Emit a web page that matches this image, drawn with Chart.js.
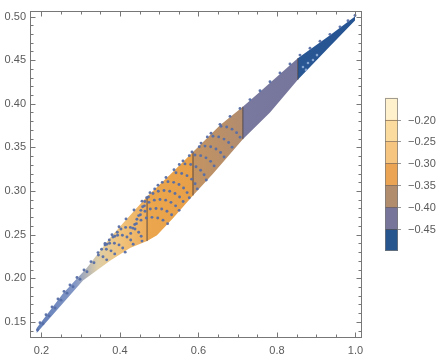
<!DOCTYPE html>
<html>
<head>
<meta charset="utf-8">
<script src="https://cdn.jsdelivr.net/npm/chart.js@4"></script>
<style>
html,body{margin:0;padding:0;background:#fff;}
#c{display:block;}
</style>
</head>
<body>
<canvas id="c" width="445" height="363"></canvas>
<script>
// ---- axis ticks ----
const xTicks = [0.2, 0.4, 0.6, 0.8, 1.0];
const xMinor = [0.25, 0.3, 0.35, 0.45, 0.5, 0.55, 0.65, 0.7, 0.75, 0.85, 0.9, 0.95];
const yTicks = [0.15, 0.20, 0.25, 0.30, 0.35, 0.40, 0.45, 0.50];

// ---- contour positions (x where colour changes) ----
const contourX = [0.469, 0.586, 0.713, 0.853];

// ---- region outline ----
const upperEdge = [[0.1878,0.1429],[0.2548,0.1825],[0.3159,0.2120],[0.3745,0.2460],[0.4076,0.2630],[0.469,0.2937],[0.5274,0.3186],[0.586,0.3447],[0.6548,0.3753],[0.713,0.3966],[0.7567,0.4138],[0.853,0.4521],[0.9350,0.4785],[0.9987,0.5000]];
const lowerEdge = [[0.1878,0.1372],[0.3057,0.1973],[0.3745,0.2200],[0.4255,0.2347],[0.469,0.2426],[0.4943,0.2494],[0.5350,0.2687],[0.586,0.2948],[0.6369,0.3197],[0.713,0.3594],[0.7822,0.3900],[0.853,0.4274],[0.9350,0.4660],[0.9987,0.4955]];

// ---- sample points ----
const edgeDots = [[0.1898,0.1406],[0.1962,0.1490],[0.2115,0.1581],[0.2268,0.1671],[0.2420,0.1762],[0.2573,0.1849],[0.2726,0.1923],[0.2904,0.2009],[0.3083,0.2094],[0.3261,0.2190],[0.3440,0.2294],[0.3618,0.2398],[0.3796,0.2498],[0.3975,0.2590],[0.4153,0.2680],[0.4357,0.2782],[0.4561,0.2884],[0.4764,0.2981],[0.4968,0.3067],[0.5172,0.3154],[0.5376,0.3243],[0.5605,0.3345],[0.5834,0.3447],[0.6064,0.3549],[0.6319,0.3662],[0.6548,0.3764],[0.6803,0.3855],[0.7057,0.3946],[0.7312,0.4048],[0.7567,0.4150],[0.7822,0.4252],[0.8076,0.4354],[0.8331,0.4456],[0.8586,0.4558],[0.8841,0.4637],[0.9096,0.4717],[0.9350,0.4796],[0.9605,0.4882],[0.9809,0.4951],[0.9988,0.5011]];
const lowDots = [[0.2038,0.1478],[0.2191,0.1569],[0.2344,0.1659],[0.2497,0.1749],[0.2650,0.1829],[0.2803,0.1903],[0.2981,0.1989],[0.3159,0.2075],[0.3337,0.2178]];
const arcDots = [
 [0.4273,0.2514],[0.4329,0.2574],[0.4418,0.2626],[0.4535,0.2666],[0.4670,0.2690],[0.4815,0.2698],[0.4961,0.2690],[0.5096,0.2666],[0.5213,0.2626],
 [0.4375,0.2616],[0.4431,0.2676],[0.4520,0.2728],[0.4637,0.2768],[0.4772,0.2793],[0.4917,0.2800],[0.5062,0.2793],[0.5197,0.2768],[0.5315,0.2728],
 [0.4476,0.2718],[0.4532,0.2778],[0.4622,0.2830],[0.4739,0.2870],[0.4874,0.2895],[0.5019,0.2902],[0.5164,0.2895],[0.5299,0.2870],[0.5417,0.2830],[0.5506,0.2778],
 [0.4578,0.2820],[0.4634,0.2880],[0.4724,0.2932],[0.4841,0.2972],[0.4976,0.2997],[0.5121,0.3005],[0.5266,0.2997],[0.5401,0.2972],[0.5518,0.2932],[0.5608,0.2880],
 [0.4680,0.2922],[0.5078,0.3099],[0.5223,0.3107],[0.5368,0.3099],[0.5503,0.3074],[0.5620,0.3034],[0.5710,0.2982],[0.5766,0.2922],
 [0.4884,0.3024],[0.5427,0.3209],[0.5572,0.3201],[0.5707,0.3176],[0.5824,0.3136],[0.5913,0.3084],[0.5969,0.3024],
 [0.5511,0.3303],[0.5656,0.3311],[0.5801,0.3303],[0.5936,0.3278],[0.6054,0.3238],[0.6143,0.3186],[0.6199,0.3126],
 [0.5766,0.3405],[0.5911,0.3413],[0.6056,0.3405],[0.6191,0.3380],[0.6308,0.3340],[0.6398,0.3288],
 [0.6020,0.3507],[0.6166,0.3515],[0.6311,0.3507],[0.6446,0.3482],[0.6563,0.3442],[0.6652,0.3390],
 [0.6224,0.3620],[0.6369,0.3628],[0.6515,0.3620],[0.6650,0.3595],[0.6767,0.3556],[0.6856,0.3503],
 [0.6573,0.3742],[0.6718,0.3734],[0.6854,0.3709],[0.6971,0.3669],[0.7060,0.3617],
 [0.3450,0.2265],[0.3567,0.2246],[0.3661,0.2211],
 [0.3531,0.2333],[0.3653,0.2333],[0.3771,0.2314],[0.3865,0.2279],
 [0.3618,0.2382],[0.3735,0.2401],[0.3857,0.2401],[0.3975,0.2382],[0.4069,0.2347],[0.4132,0.2299],
 [0.3664,0.2390],[0.3727,0.2438],[0.3822,0.2473],[0.3939,0.2492],[0.4061,0.2492],[0.4178,0.2473],[0.4273,0.2438],[0.4336,0.2390],
 [0.3867,0.2481],[0.3931,0.2528],[0.4025,0.2564],[0.4143,0.2583],[0.4265,0.2583],[0.4382,0.2564],[0.4476,0.2528],[0.4540,0.2481],[0.4561,0.2426]
];
const lightDots = [[0.8662,0.4422],[0.8790,0.4467],[0.8917,0.4501],[0.8739,0.4388],[0.9019,0.4558]];

// ---- colour legend ----
const legendLabels = ['\u22120.20', '\u22120.25', '\u22120.30', '\u22120.35', '\u22120.40', '\u22120.45'];
const legendColors = ['rgb(255,241,203)', 'rgb(252,219,158)', 'rgb(246,198,128)', 'rgb(234,164,84)', 'rgb(177,141,110)', 'rgb(119,117,154)', 'rgb(39,85,142)'];

// ---- band styles (left to right) ----
const bandStyles = [
  [[0, 'rgb(98,126,184)'], [0.35, 'rgb(132,152,198)'], [0.55, 'rgb(222,206,168)'], [0.75, 'rgb(240,196,126)'], [1, 'rgb(238,172,88)']],
  [[0, 'rgb(235,166,78)'], [1, 'rgb(232,160,72)']],
  [[0, 'rgb(196,148,98)'], [1, 'rgb(178,140,110)']],
  [[0, 'rgb(121,120,158)'], [1, 'rgb(118,118,156)']],
  [[0, 'rgb(40,87,148)'], [1, 'rgb(38,84,146)']]
];

const FONT = "'Liberation Sans', Arial, sans-serif";
const toPts = arr => arr.map(p => ({x: p[0], y: p[1]}));

const bounds = [upperEdge[0][0], ...contourX, upperEdge[upperEdge.length - 1][0]];
const datasets = [];

datasets.push({type: 'scatter', data: toPts(edgeDots.concat(lowDots, arcDots)), pointRadius: 1.45, pointBorderWidth: 0, pointBackgroundColor: 'rgba(86,110,166,0.95)', order: 0});
datasets.push({type: 'scatter', data: toPts(lightDots), pointRadius: 1.3, pointBorderWidth: 0, pointBackgroundColor: 'rgba(150,180,220,0.85)', order: 0});

contourX.forEach(cx => {
  const u = upperEdge.find(p => Math.abs(p[0] - cx) < 1e-9);
  const l = lowerEdge.find(p => Math.abs(p[0] - cx) < 1e-9);
  datasets.push({type: 'line', data: toPts([l, u]), borderColor: 'rgba(70,58,60,0.85)', borderWidth: 1, pointRadius: 0, fill: false, tension: 0, order: 1});
});

for (let i = 0; i < bounds.length - 1; i++) {
  const a = bounds[i] - 1e-9, b = bounds[i + 1] + 1e-9;
  const up = upperEdge.filter(p => p[0] >= a && p[0] <= b);
  const lo = lowerEdge.filter(p => p[0] >= a && p[0] <= b).reverse();
  const poly = up.concat(lo);
  const stops = bandStyles[i];
  const x0 = bounds[i], x1 = bounds[i + 1];
  datasets.push({
    type: 'line', data: toPts(poly), fill: 'shape', borderWidth: 0, borderColor: 'rgba(0,0,0,0)', pointRadius: 0, tension: 0, order: 2,
    backgroundColor: (ctx) => {
      const c = ctx.chart, s = c.scales.x;
      if (!s || !c.chartArea) return stops[0][1];
      const g = c.ctx.createLinearGradient(s.getPixelForValue(x0), 0, s.getPixelForValue(x1), 0);
      stops.forEach(([o, col]) => g.addColorStop(o, col));
      return g;
    }
  });
}

const frameTicks = {
  id: 'frameTicks',
  afterDraw(chart) {
    const {ctx, chartArea: a, scales: {x, y}} = chart;
    const L = Math.round(a.left) + 0.5, R = Math.round(a.right) - 0.5, T = Math.round(a.top) + 0.5, B = Math.round(a.bottom) - 0.5;
    ctx.save();
    ctx.strokeStyle = '#777';
    ctx.lineWidth = 1;
    ctx.strokeRect(L, T, R - L, B - T);
    ctx.beginPath();
    const xt = (v, len) => { const p = Math.round(x.getPixelForValue(v)) + 0.5; ctx.moveTo(p, B); ctx.lineTo(p, B - len); ctx.moveTo(p, T); ctx.lineTo(p, T + len); };
    const yt = (v, len) => { const p = Math.round(y.getPixelForValue(v)) + 0.5; ctx.moveTo(L, p); ctx.lineTo(L + len, p); ctx.moveTo(R, p); ctx.lineTo(R - len, p); };
    xTicks.forEach(v => xt(v, 5));
    xMinor.forEach(v => xt(v, 3));
    yTicks.forEach(v => yt(v, 5));
    for (let k = 14; k <= 50; k++) { if (k % 5 !== 0) yt(k / 100, 3); }
    ctx.stroke();
    ctx.restore();
  }
};

const colorBar = {
  id: 'colorBar',
  afterDraw(chart) {
    const {ctx, chartArea: a} = chart;
    const n = legendColors.length, h = 21.9, w = 13;
    const x0 = Math.round(a.right) + 23;
    const y0 = (a.top + a.bottom) / 2 - n * h / 2;
    ctx.save();
    legendColors.forEach((c, i) => { ctx.fillStyle = c; ctx.fillRect(x0, y0 + i * h, w, h); });
    ctx.strokeStyle = 'rgba(95,75,60,0.55)';
    ctx.lineWidth = 1;
    ctx.beginPath();
    for (let i = 1; i < n; i++) { const yy = Math.round(y0 + i * h) + 0.5; ctx.moveTo(x0, yy); ctx.lineTo(x0 + w, yy); }
    ctx.stroke();
    ctx.strokeStyle = 'rgba(120,120,120,0.7)';
    ctx.strokeRect(x0 + 0.5, Math.round(y0) + 0.5, w - 1, Math.round(n * h) - 1);
    ctx.strokeStyle = '#999';
    ctx.beginPath();
    for (let i = 1; i < n; i++) { const yy = Math.round(y0 + i * h) + 0.5; ctx.moveTo(x0 + w, yy); ctx.lineTo(x0 + w + 3, yy); }
    ctx.stroke();
    ctx.fillStyle = '#5a5a5a';
    ctx.font = '11px ' + FONT;
    ctx.textAlign = 'left';
    ctx.textBaseline = 'middle';
    legendLabels.forEach((t, i) => ctx.fillText(t, x0 + w + 10, y0 + (i + 1) * h + 1));
    ctx.restore();
  }
};

new Chart(document.getElementById('c'), {
  data: {datasets},
  options: {
    responsive: false,
    animation: false,
    devicePixelRatio: 1,
    layout: {padding: {left: 0, right: 83, top: 7, bottom: 0}},
    plugins: {legend: {display: false}, tooltip: {enabled: false}},
    scales: {
      x: {
        type: 'linear', min: 0.1707, max: 1.0166,
        afterBuildTicks: s => { s.ticks = xTicks.map(v => ({value: v})); },
        afterFit: s => { s.height = 25; },
        grid: {display: false, drawTicks: false},
        border: {display: false},
        ticks: {padding: 6, color: '#5a5a5a', font: {family: FONT, size: 11}, maxRotation: 0, autoSkip: false, callback: v => Number(v).toFixed(1)}
      },
      y: {
        type: 'linear', min: 0.1315, max: 0.5068,
        afterBuildTicks: s => { s.ticks = yTicks.map(v => ({value: v})); },
        afterFit: s => { s.width = 30; },
        grid: {display: false, drawTicks: false},
        border: {display: false},
        ticks: {padding: 4, color: '#5a5a5a', font: {family: FONT, size: 11}, autoSkip: false, callback: v => Number(v).toFixed(2)}
      }
    }
  },
  plugins: [frameTicks, colorBar]
});
</script>
</body>
</html>
